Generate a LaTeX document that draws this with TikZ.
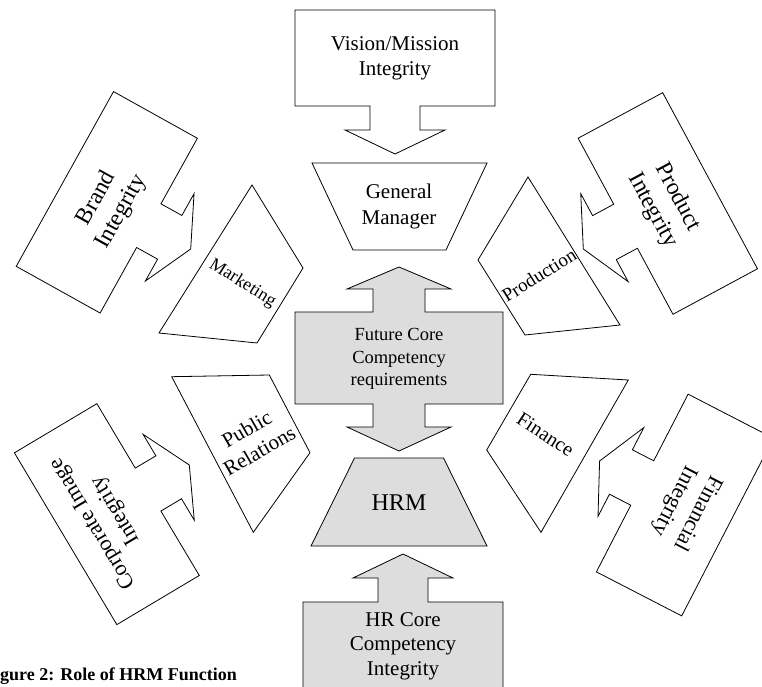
\documentclass[tikz,border=0pt]{standalone}
\usepackage{fontspec}
\setmainfont{Liberation Serif}
\definecolor{shade}{RGB}{221,221,221}
\tikzset{
  outline/.style={draw=black, line width=0.8pt, line join=miter},
  shaded/.style={outline, fill=shade},
  lbl/.style={inner sep=0pt, align=center},
}
\newcommand{\fsz}[1]{\fontsize{#1pt}{\dimexpr #1pt*12/10\relax}\selectfont}
% block arrow: tip at (#1,#2), pointing at angle #3, style #4
\newcommand{\blockarrow}[4]{%
  \draw[#4, shift={(#1,#2)}, rotate=#3]
    (-144,-100) -- (-48,-100) -- (-48,-25) -- (-24,-25) -- (-24,-50) -- (0,0)
    -- (-24,50) -- (-24,25) -- (-48,25) -- (-48,100) -- (-144,100) -- cycle;}
\begin{document}
\begin{tikzpicture}[x=1pt,y=1pt]
\useasboundingbox (0,0) rectangle (762,686);
\clip (0,0) rectangle (762,686);
% outer block arrows
\blockarrow{395}{532}{-90}{outline}
\blockarrow{190.7}{437}{-29.1}{outline}
\blockarrow{583.3}{437}{-151.7}{outline}
\blockarrow{189.3}{221}{30.8}{outline}
\blockarrow{599.6}{225}{152.7}{outline}
\blockarrow{403}{132}{90}{shaded}
% double arrow (Future core)
\draw[shaded] (399,419) -- (451,397) -- (425,397) -- (425,374) -- (503,374)
  -- (503,282) -- (425,282) -- (425,259) -- (451,259) -- (399,235)
  -- (347,259) -- (373,259) -- (373,282) -- (295,282) -- (295,374)
  -- (373,374) -- (373,397) -- (347,397) -- cycle;
% trapezoids
\draw[outline] (312,523) -- (487,523) -- (446,436) -- (353,436) -- cycle;
\draw[shaded] (354.5,228) -- (443.5,228) -- (487,140) -- (311,140) -- cycle;
\draw[outline] (252,501) -- (303,418) -- (257,343) -- (159,353) -- cycle;
\draw[outline] (528,509) -- (620,361) -- (525,351) -- (478,426) -- cycle;
\draw[outline] (171.7,309.3) -- (269.3,311) -- (310,233.3) -- (253.3,153.7) -- cycle;
\draw[outline] (530.7,311.7) -- (628.3,306) -- (541,153.7) -- (486.7,236) -- cycle;
% texts
\node[lbl, font=\fsz{21}] (vision) at (395,628) {Vision/Mission\\Integrity};
\node[lbl, font=\fsz{21}] (gm) at (399,479.5) {General\\Manager};
\node[lbl, font=\fsz{18.5}] (future) at (399,327) {Future Core\\Competency\\requirements};
\node[lbl, font=\fsz{24}] (hrm) at (399,183) {HRM};
\node[lbl, font={\fontsize{21pt}{24.5pt}\selectfont}] (hrcore) at (403,40) {HR Core\\Competency\\Integrity};
\node[lbl, font=\fsz{18}, rotate=-32] (mkt) at (242.5,402.5) {Marketing};
\node[lbl, font=\fsz{19}, rotate=32] (prod) at (539,411) {Production};
\node[lbl, font=\fsz{21}, rotate=30] (pr) at (253,246) {Public\\Relations};
\node[lbl, font=\fsz{20}, rotate=-33] (fin) at (545.5,251.5) {Finance};
\node[lbl, font=\fsz{23.5}, rotate=61] (brand) at (109,481) {Brand\\Integrity};
\node[lbl, font=\fsz{23.5}, rotate=-61.7] (product) at (665,482) {Product\\Integrity};
\node[lbl, font=\fsz{22}, rotate=120.8] (corp) at (105,169) {Corporate Image\\Integrity};
\node[lbl, font=\fsz{22}, rotate=-117.3] (finint) at (685.5,179) {Financial\\Integrity};
\node[inner sep=0pt, anchor=base west, font=\bfseries\fsz{18}] (caption) at (-16,6) {Figure 2: Role of HRM Function};
\end{tikzpicture}
\end{document}
